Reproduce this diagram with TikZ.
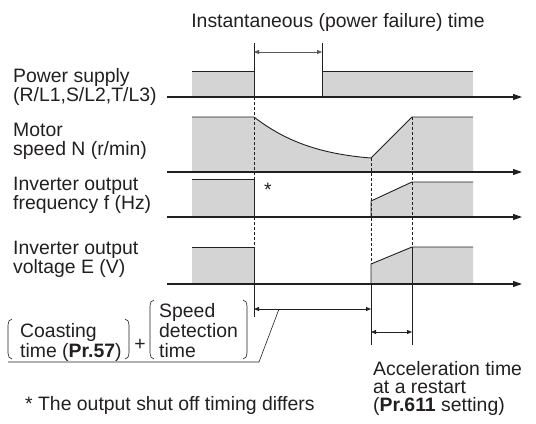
\documentclass[tikz,border=0pt]{standalone}
\usepackage{fontspec}
\setmainfont{Liberation Sans}
\usetikzlibrary{arrows.meta}
\definecolor{ink}{RGB}{35,31,32}
\definecolor{shadefill}{RGB}{212,212,212}
\tikzset{
  axis/.style={-{Triangle[length=9bp,width=6bp]}, line width=1.1bp, color=ink},
  edge/.style={line width=0.9bp, color=ink},
  guide/.style={dash pattern=on 3bp off 2bp, line width=0.6bp, color=ink},
  tick/.style={line width=0.6bp, color=ink},
  dim/.style={{Triangle[length=5bp,width=4bp]}-{Triangle[length=5bp,width=4bp]},
    line width=0.8bp, color=ink},
  shade/.style={fill=shadefill, draw=none},
  lbl/.style={font=\fontsize{19.4bp}{19bp}\selectfont, inner sep=0pt,
    align=left, text=ink}
}
% tall bracket: x-left, x-right, top, bottom
\newcommand\tallparen[4]{%
  \draw[tick] (#1+4,#3) to[out=180,in=90] (#1,#3+6) -- (#1,#4-6)
    to[out=-90,in=180] (#1+4,#4);
  \draw[tick] (#2-4,#3) to[out=0,in=90] (#2,#3+6) -- (#2,#4-6)
    to[out=-90,in=0] (#2-4,#4);}

\begin{document}
\begin{tikzpicture}[x=1bp, y=-1bp]
  \useasboundingbox (0,0) rectangle (536,423);
  % shaded areas
  \fill[shade] (192,71) rectangle (254,97);
  \fill[shade] (322,71) rectangle (473,97);
  \fill[shade] (192,172) -- (192,117) -- (254,117)
    .. controls (285,141) and (320,154) .. (371,158)
    -- (412,117) -- (473,117) -- (473,172) -- cycle;
  \fill[shade] (192,179) rectangle (254,217);
  \fill[shade] (371,217) -- (371,201) -- (412,182) -- (473,182) -- (473,217) -- cycle;
  \fill[shade] (192,247) rectangle (254,284);
  \fill[shade] (371,284) -- (371,264) -- (412,247) -- (473,247) -- (473,284) -- cycle;
  % dashed guides
  \draw[guide] (254,97) -- (254,284);
  \draw[guide] (371,158) -- (371,264);
  \draw[guide] (412,117) -- (412,247);
  % power supply
  \draw[edge] (192,71) -- (254,71) -- (254,97);
  \draw[edge] (322,97) -- (322,71) -- (473,71);
  \draw[axis] (167,97) -- (522,97);
  % motor speed
  \draw[edge] (192,117) -- (254,117)
    .. controls (285,141) and (320,154) .. (371,158) -- (412,117) -- (473,117);
  \draw[axis] (167,172) -- (522,172);
  % output frequency
  \draw[edge] (192,179) -- (254,179) -- (254,217);
  \draw[edge] (371,217) -- (371,201) -- (412,182) -- (473,182);
  \draw[axis] (167,217) -- (522,217);
  % output voltage
  \draw[edge] (192,247) -- (254,247) -- (254,284);
  \draw[edge] (371,284) -- (371,264) -- (412,247) -- (473,247);
  \draw[axis] (167,284) -- (522,284);
  % time marks
  \coordinate (offtop) at (254,52);
  \coordinate (ontop) at (322,52);
  \coordinate (offlow) at (254,309);
  \coordinate (restart) at (371,309);
  \coordinate (accbeg) at (371,332);
  \coordinate (accend) at (412,332);
  \draw[tick] (254,43) -- (254,71);
  \draw[tick] (322,43) -- (322,71);
  \draw[dim, color=ink!75] (offtop) -- (ontop);
  \draw[tick] (254,284) -- (254,317);
  \draw[tick] (371,284) -- (371,345);
  \draw[tick] (412,247) -- (412,345);
  \draw[dim] (offlow) -- (restart);
  \draw[dim] (accbeg) -- (accend);
  % leader
  \coordinate (lead) at (279,309);
  \draw[tick] (8,362) -- (259,362) -- (lead);
  % labels
  \node[lbl] (title) at (338,22) {Instantaneous (power failure) time};
  \node[lbl, anchor=west] (pow) at (13,86.6) {Power supply\\(R/L1,S/L2,T/L3)};
  \node[lbl, anchor=west] (spd) at (13,141.6) {Motor\\speed N (r/min)};
  \node[lbl, anchor=west] (frq) at (13,195.6) {Inverter output\\frequency f (Hz)};
  \node[lbl, anchor=west] (vlt) at (13,259.6) {Inverter output\\voltage E (V)};
  \node[lbl] (star) at (268,190) {*};
  \node[lbl, anchor=north west, font=\fontsize{19.4bp}{20bp}\selectfont]
    (coast) at (20,323) {Coasting\\time (\textbf{Pr.57})};
  \node[lbl] (plus) at (140,345) {+};
  \node[lbl, anchor=north west, font=\fontsize{19.4bp}{20bp}\selectfont]
    (detect) at (159,303) {Speed\\detection\\time};
  \tallparen{8}{129}{319}{359}
  \tallparen{150}{247}{300}{359}
  \node[lbl, anchor=west, font=\fontsize{19.4bp}{18bp}\selectfont] (accel) at (373,388.6)
    {Acceleration time\\at a restart\\(\textbf{Pr.611} setting)};
  \node[lbl, anchor=base west] (note) at (25,410) {* The output shut off timing differs};
\end{tikzpicture}
\end{document}
